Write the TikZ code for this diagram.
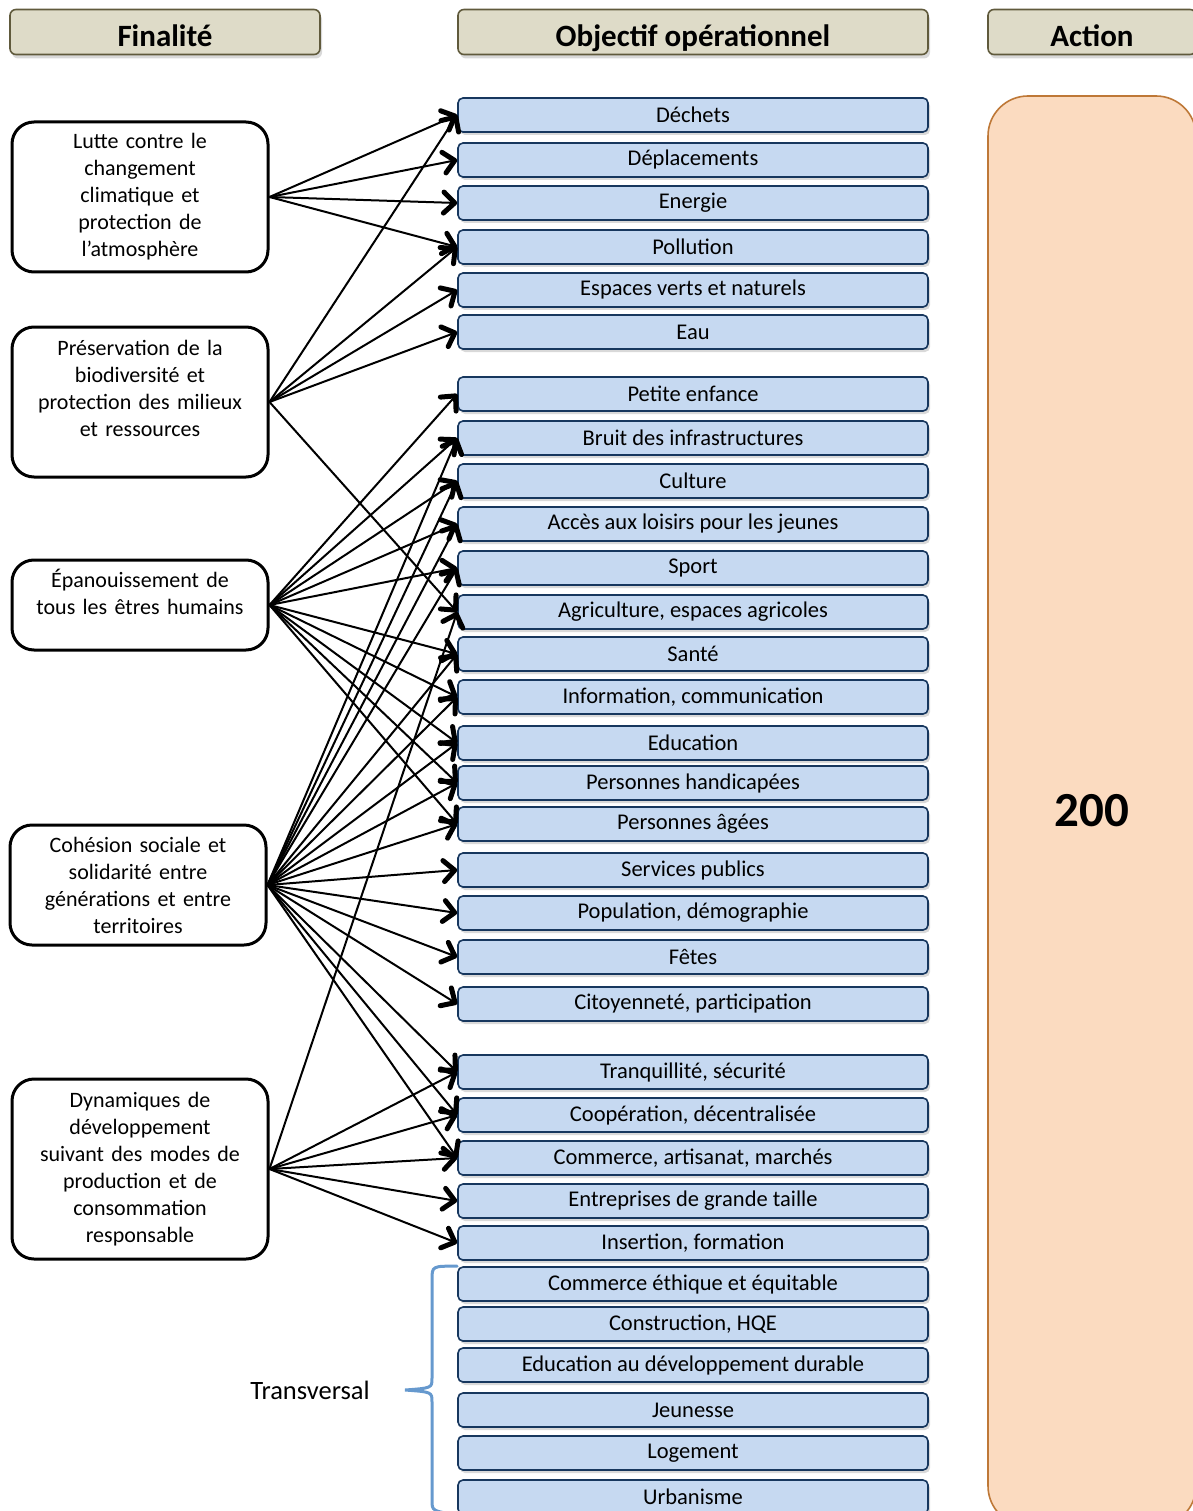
\documentclass[tikz,border=0pt]{standalone}
\usepackage{fontspec}
\setmainfont{Carlito}
\usepackage{tikz}
\usetikzlibrary{arrows.meta}
\usetikzlibrary{shadows}
\definecolor{objfill}{RGB}{198,217,241}
\definecolor{objline}{RGB}{23,55,94}
\definecolor{headfill}{RGB}{222,219,200}
\definecolor{headline}{RGB}{96,90,60}
\definecolor{actfill}{RGB}{251,219,192}
\definecolor{actline}{RGB}{190,120,55}
\definecolor{bracecol}{RGB}{102,153,206}
\tikzset{
	% header boxes, finality boxes and objective boxes
	head box/.style={draw=headline,fill=headfill,line width=1.6pt,rounded corners=6pt,minimum height=45pt,text height=29pt,text depth=0pt,font=\fontsize{31}{33}\selectfont\bfseries,drop shadow={opacity=0.3,shadow xshift=2pt,shadow yshift=-4pt}},
	goal box/.style={draw,line width=3pt,rounded corners=22pt,minimum width=256pt,text width=244pt,align=center,font=\fontsize{22}{27}\selectfont},
	obj box/.style={draw=objline,fill=objfill,line width=1.6pt,rounded corners=5pt,minimum width=470pt,minimum height=34pt,font=\fontsize{22.5}{24}\selectfont,drop shadow={opacity=0.3,shadow xshift=2pt,shadow yshift=-3pt}},
	link/.style={line width=2pt,-{Straight Barb[length=11pt,width=21pt,line width=5pt,round]}}
}

\begin{document}
\begin{tikzpicture}[x=1pt,y=-1pt]
	\useasboundingbox (0,0) rectangle (1192,1511);
	% macro for one operational objective: number, height, text
	\newcommand{\objective}[3]{\node[obj box](o-#1) at (693,#2){#3};}
	% macro for the arrows leaving one finality
	\newcommand{\links}[2]{\foreach \o in {#2}{\draw[link](#1.east)--(o-\o.west);}}
	% column headers
	\node[head box,minimum width=310pt](h-1) at (165,32){Finalité};
	\node[head box,minimum width=470pt](h-2) at (693,32){Objectif opérationnel};
	\node[head box,minimum width=208pt](h-3) at (1092,32){Action};
	% action column
	\node[draw=actline,fill=actfill,line width=1.6pt,rounded corners=40pt,minimum width=208pt,minimum height=1430pt,font=\fontsize{49}{52}\selectfont\bfseries](act) at (1092,811){200};
	% finalities
	\node[goal box,minimum height=150pt](f-1) at (140,197){Lutte contre le\\ changement\\ climatique et\\ protection de\\ l’atmosphère};
	\node[goal box,minimum height=150pt](f-2) at (140,402){Préservation de la\\ biodiversité et\\ protection des milieux\\ et ressources\\ \mbox{}};
	\node[goal box,minimum height=90pt](f-3) at (140,605){Épanouissement de\\ tous les êtres humains\\ \mbox{}};
	\node[goal box,minimum height=120pt](f-4) at (138,885){Cohésion sociale et\\ solidarité entre\\ générations et entre\\ territoires};
	\node[goal box,minimum height=180pt](f-5) at (140,1169){Dynamiques de\\ développement\\ suivant des modes de\\ production et de\\ consommation\\ responsable};
	% operational objectives
	\objective{1}{115}{Déchets}
	\objective{2}{160}{Déplacements}
	\objective{3}{203}{Energie}
	\objective{4}{247}{Pollution}
	\objective{5}{290}{Espaces verts et naturels}
	\objective{6}{332}{Eau}
	\objective{7}{394}{Petite enfance}
	\objective{8}{438}{Bruit des infrastructures}
	\objective{9}{481}{Culture}
	\objective{10}{524}{Accès aux loisirs pour les jeunes}
	\objective{11}{568}{Sport}
	\objective{12}{612}{Agriculture, espaces agricoles}
	\objective{13}{654}{Santé}
	\objective{14}{697}{Information, communication}
	\objective{15}{743}{Education}
	\objective{16}{783}{Personnes handicapées}
	\objective{17}{824}{Personnes âgées}
	\objective{18}{870}{Services publics}
	\objective{19}{913}{Population, démographie}
	\objective{20}{957}{Fêtes}
	\objective{21}{1004}{Citoyenneté, participation}
	\objective{22}{1072}{Tranquillité, sécurité}
	\objective{23}{1115}{Coopération, décentralisée}
	\objective{24}{1158}{Commerce, artisanat, marchés}
	\objective{25}{1201}{Entreprises de grande taille}
	\objective{26}{1243}{Insertion, formation}
	\objective{27}{1284}{Commerce éthique et équitable}
	\objective{28}{1324}{Construction, HQE}
	\objective{29}{1365}{Education au développement durable}
	\objective{30}{1410}{Jeunesse}
	\objective{31}{1453}{Logement}
	\objective{32}{1497}{Urbanisme}
	% transversal objectives
	\draw[bracecol,line width=3pt,line cap=round](o-27.north west) .. controls (432,1266) .. (432,1280) -- (432,1378) .. controls (432,1388) .. (405,1390) .. controls (432,1392) .. (432,1402) -- (432,1500) .. controls (432,1511) .. (o-32.south west);
	\node[font=\fontsize{26.5}{28}\selectfont](trans) at (310,1390){Transversal};
	% arrows
	\links{f-1}{1,2,3,4}
	\links{f-2}{1,4,5,6,12}
	\links{f-3}{7,8,9,10,11,13,14,15,16,17}
	\links{f-4}{8,9,10,11,13,14,15,16,17,18,19,20,21,22,23,24}
	\links{f-5}{12,22,23,24,25,26}
\end{tikzpicture}
\end{document}
